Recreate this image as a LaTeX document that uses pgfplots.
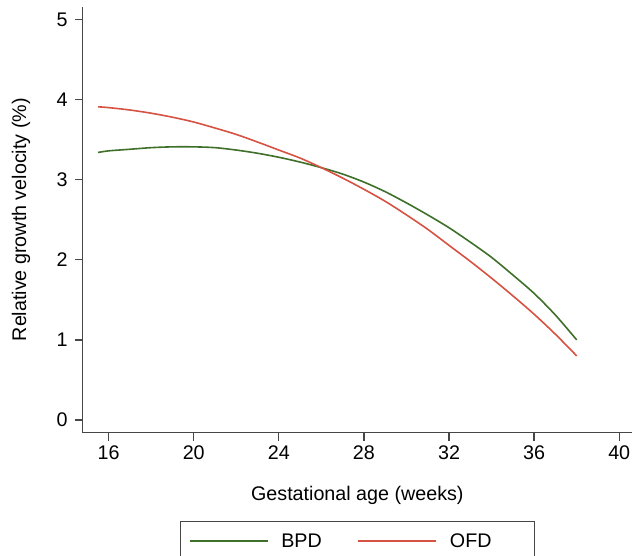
\documentclass[border=0pt]{standalone}
\usepackage{pgfplots}
\pgfplotsset{compat=1.18}
\usepackage{fontspec}
\setmainfont{Liberation Sans}
\definecolor{bpdgreen}{RGB}{62,112,42}
\definecolor{ofdred}{RGB}{214,82,66}
\definecolor{axgray}{RGB}{70,70,70}
\begin{document}
\begin{tikzpicture}[font=\fontsize{19.7bp}{23.6bp}\selectfont]
\path[use as bounding box] (-82.7bp,-123.3bp) rectangle (549.3bp,432.7bp);
\begin{axis}[
  at={(0,0)}, anchor=south west,
  scale only axis, width=549.3bp, height=426bp,
  xmin=14.78, xmax=40.6, ymin=-0.159, ymax=5.16,
  axis x line*=bottom, axis y line*=left,
  axis line style={-, draw=axgray, line width=1.4bp},
  xtick={16,20,24,28,32,36,40}, ytick={0,1,2,3,4,5},
  tick align=outside, major tick length=8bp,
  tick style={draw=axgray, line width=1.3bp},
  /pgf/number format/assume math mode=true,
  xticklabel style={font=\fontsize{19.7bp}{23.6bp}\selectfont, inner sep=0pt, anchor=north, yshift=-5bp},
  yticklabel style={font=\fontsize{19.7bp}{23.6bp}\selectfont, inner sep=0pt, anchor=east, xshift=-7bp},
  xlabel={Gestational age (weeks)},
  ylabel={Relative growth velocity (\%)},
  every axis x label/.style={at={(axis description cs:0.5,-0.1603)}, anchor=base},
  every axis y label/.style={at={(axis description cs:-0.1123,0.5)}, rotate=90, anchor=center},
  legend image code/.code={\draw[#1] (0bp,0bp) -- (78.3bp,0bp);},
  legend columns=2,
  legend cell align=left,
  legend style={at={(axis description cs:0.5,-0.2066)}, anchor=north,
    draw=axgray, line width=1.2bp, inner xsep=8.4bp, inner ysep=12.3bp,
    font=\fontsize{19.7bp}{23.6bp}\selectfont,
    nodes={inner sep=0pt},
    /tikz/every odd column/.append style={column sep=12.7bp},
    /tikz/every even column/.append style={column sep=0bp}},
]
\addplot[bpdgreen, line width=1.6bp, no marks, smooth] table {
x y
15.5 3.34
16 3.36
17 3.38
18 3.40
19 3.41
20 3.41
21 3.40
22 3.37
23 3.33
24 3.28
25 3.22
26 3.15
27 3.07
28 2.97
29 2.85
30 2.71
31 2.56
32 2.40
33 2.22
34 2.03
35 1.81
36 1.58
37 1.31
38 1.00
};
\addlegendentry{\makebox[76bp][l]{BPD}}
\addplot[ofdred, line width=1.6bp, no marks, smooth] table {
x y
15.5 3.91
16 3.90
17 3.87
18 3.83
19 3.78
20 3.72
21 3.645
22 3.565
23 3.47
24 3.37
25 3.27
26 3.15
27 3.02
28 2.88
29 2.73
30 2.56
31 2.38
32 2.18
33 1.98
34 1.77
35 1.55
36 1.32
37 1.07
38 0.80
};
\addlegendentry{\makebox[76bp][l]{OFD}}
\end{axis}
\end{tikzpicture}
\end{document}
